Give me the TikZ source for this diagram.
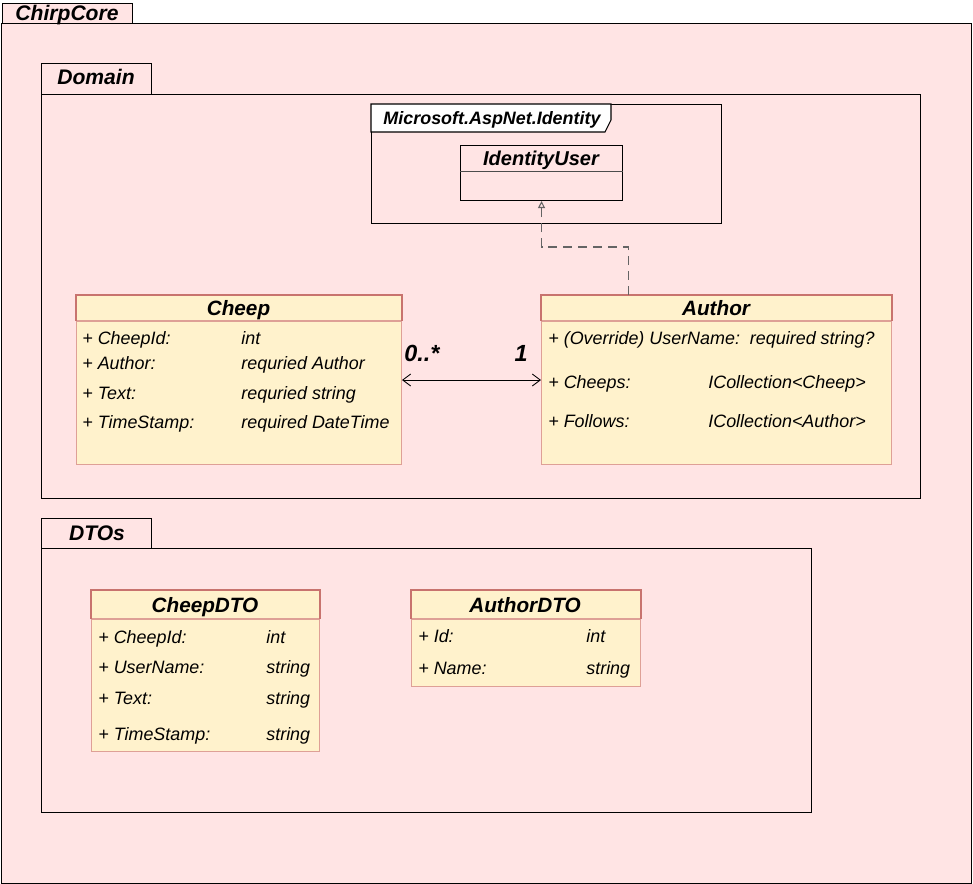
\documentclass[tikz,border=0pt]{standalone}
\usepackage{fontspec}
\setmainfont{Liberation Sans}
\usetikzlibrary{arrows.meta}

\definecolor{pkgfill}{RGB}{255,228,228}
\definecolor{classfill}{RGB}{255,242,204}
\definecolor{classline}{RGB}{222,160,150}
\definecolor{headline}{RGB}{200,115,110}
\definecolor{linkgrey}{RGB}{100,100,100}

\begin{document}
\begin{tikzpicture}[x=0.02cm, y=-0.02cm,
    pkg/.style={draw, line width=0.6pt, inner sep=0pt, anchor=north west},
    pkgtitle/.style={inner sep=0pt, text height=8.6pt, text depth=0pt, font=\bfseries\itshape\fontsize{12}{14}\selectfont},
    classbox/.style={draw=classline, fill=classfill, line width=0.6pt, inner sep=0pt, anchor=north west},
    classtitle/.style={inner sep=0pt, text height=8.5pt, text depth=0pt, font=\bfseries\itshape\fontsize{11.8}{14}\selectfont},
    attr/.style={anchor=west, inner sep=0pt, text height=7.3pt, text depth=0pt, font=\itshape\fontsize{10.2}{12}\selectfont},
    mult/.style={inner sep=0pt, text height=9.5pt, text depth=0pt, font=\bfseries\itshape\fontsize{13.3}{15}\selectfont},
    assoc/.style={line width=0.5pt, {Straight Barb[length=1.6mm, width=2.4mm]}-{Straight Barb[length=1.6mm, width=2.4mm]}},
    realize/.style={draw=linkgrey, line width=0.6pt, dash pattern=on 0.18cm off 0.12cm, -{Triangle[open, length=0.14cm, width=0.14cm]}}]
    \useasboundingbox (0,0) rectangle (973,884);

    % ChirpCore package
    \node[pkg, fill=pkgfill, minimum width=19.4cm, minimum height=17.2cm] (chirpcore) at (1,23) {};
    \node[pkg, fill=pkgfill, minimum width=2.6cm, minimum height=0.4cm] (chirpcoretab) at (2,3) {};
    \node[pkgtitle] (chirpcorename) at (67,13) {ChirpCore};

    % Domain package
    \node[pkg, minimum width=17.58cm, minimum height=8.08cm] (domain) at (41,94) {};
    \node[pkg, minimum width=2.2cm, minimum height=0.62cm] (domaintab) at (41,63) {};
    \node[pkgtitle] (domainname) at (96,77) {Domain};

    % Microsoft.AspNet.Identity frame
    \node[pkg, minimum width=7cm, minimum height=2.38cm] (identity) at (371,104) {};
    \draw[fill=white, line width=0.6pt] (identity.north west) -- (611,104) -- (611,120) -- (605,132) -- (371,132) -- cycle;
    \node[inner sep=0pt, text height=7.3pt, text depth=0pt, font=\bfseries\itshape\fontsize{10.2}{12}\selectfont] (identityname) at (492,118) {Microsoft.AspNet.Identity};

    \node[pkg, minimum width=3.24cm, minimum height=1.1cm] (iduser) at (460,145) {};
    \draw[line width=0.5pt, black!70] (iduser.west |- 0,171) -- (iduser.east |- 0,171);
    \node[classtitle, font=\bfseries\itshape\fontsize{11.4}{14}\selectfont] (idusertitle) at (541,158) {IdentityUser};

    % Cheep
    \node[classbox, minimum width=6.5cm, minimum height=3.38cm] (cheep) at (76,295) {};
    \draw[classline, line width=0.6pt] (cheep.west |- 0,321) -- (cheep.east |- 0,321);
    \draw[headline, line width=0.6pt] (cheep.west |- 0,321) |- (cheep.north east) -- (cheep.east |- 0,321);
    \node[classtitle] (cheeptitle) at (238.5,308) {Cheep};
    \node[attr] (cheepid) at (82,338) {+ CheepId:};
    \node[attr] (cheepidtype) at (241,338) {int};
    \node[attr] (cheepauthor) at (82,363) {+ Author:};
    \node[attr] (cheepauthortype) at (241,363) {requried Author};
    \node[attr] (cheeptext) at (82,393) {+ Text:};
    \node[attr] (cheeptexttype) at (241,393) {requried string};
    \node[attr] (cheeptime) at (82,422) {+ TimeStamp:};
    \node[attr] (cheeptimetype) at (241,422) {required DateTime};

    % Author
    \node[classbox, minimum width=7cm, minimum height=3.38cm] (author) at (541,295) {};
    \draw[classline, line width=0.6pt] (author.west |- 0,321) -- (author.east |- 0,321);
    \draw[headline, line width=0.6pt] (author.west |- 0,321) |- (author.north east) -- (author.east |- 0,321);
    \node[classtitle] (authortitle) at (716,308) {Author};
    \node[attr] (authorname) at (548,338) {+ (Override) UserName:\ \ required string?};
    \node[attr] (authorcheeps) at (548,382) {+ Cheeps:};
    \node[attr] (authorcheepstype) at (708,382) {ICollection<Cheep>};
    \node[attr] (authorfollows) at (548,421) {+ Follows:};
    \node[attr] (authorfollowstype) at (708,421) {ICollection<Author>};

    \draw[assoc] (cheep) -- (author);
    \node[mult] (manyend) at (422,353) {0..*};
    \node[mult] (oneend) at (521,353) {1};

    \draw[realize] ([xshift=-1.76cm]author.north) -- ++(0,-48) -| (iduser.south);

    % DTOs package
    \node[pkg, minimum width=15.4cm, minimum height=5.28cm] (dtos) at (41,548) {};
    \node[pkg, minimum width=2.2cm, minimum height=0.6cm] (dtostab) at (41,518) {};
    \node[pkgtitle] (dtosname) at (97,533) {DTOs};

    % CheepDTO
    \node[classbox, minimum width=4.56cm, minimum height=3.22cm] (cheepdto) at (91,590) {};
    \draw[classline, line width=0.6pt] (cheepdto.west |- 0,619) -- (cheepdto.east |- 0,619);
    \draw[headline, line width=0.6pt] (cheepdto.west |- 0,619) |- (cheepdto.north east) -- (cheepdto.east |- 0,619);
    \node[classtitle] (cheepdtotitle) at (205,605) {CheepDTO};
    \node[attr] (dtocheepid) at (98,637) {+ CheepId:};
    \node[attr] (dtocheepidtype) at (266,637) {int};
    \node[attr] (dtousername) at (98,667) {+ UserName:};
    \node[attr] (dtousernametype) at (266,667) {string};
    \node[attr] (dtotext) at (98,698) {+ Text:};
    \node[attr] (dtotexttype) at (266,698) {string};
    \node[attr] (dtotime) at (98,734) {+ TimeStamp:};
    \node[attr] (dtotimetype) at (266,734) {string};

    % AuthorDTO
    \node[classbox, minimum width=4.58cm, minimum height=1.92cm] (authordto) at (411,590) {};
    \draw[classline, line width=0.6pt] (authordto.west |- 0,619) -- (authordto.east |- 0,619);
    \draw[headline, line width=0.6pt] (authordto.west |- 0,619) |- (authordto.north east) -- (authordto.east |- 0,619);
    \node[classtitle] (authordtotitle) at (525,605) {AuthorDTO};
    \node[attr] (dtoid) at (418,636) {+ Id:};
    \node[attr] (dtoidtype) at (586,636) {int};
    \node[attr] (dtoname) at (418,668) {+ Name:};
    \node[attr] (dtonametype) at (586,668) {string};
\end{tikzpicture}
\end{document}
